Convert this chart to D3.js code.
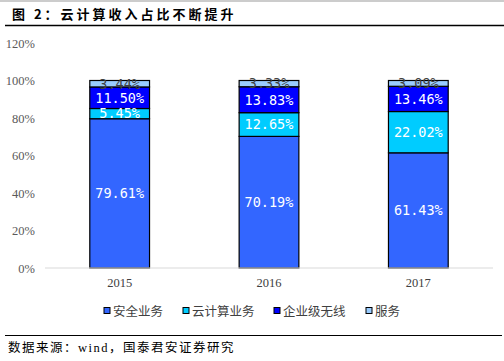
<!DOCTYPE html>
<html>
  <head>
    <meta charset="utf-8">
    <title>云计算收入占比不断提升</title>
    <script src="https://d3js.org/d3.v7.min.js"></script>
    <style>
      body { margin: 0; background: #fff; }
    </style>
  </head>
  <body>
    <div id="chart"></div>
    <script>
      // years on the x axis
      var years = ["2015", "2016", "2017"];
      // series names, bottom to top
      var seriesNames = ["安全业务", "云计算业务", "企业级无线", "服务"];
      // values in percent, one array per series
      var security = [79.61, 70.19, 61.43];
      var cloud = [5.45, 12.65, 22.02];
      var wireless = [11.50, 13.83, 13.46];
      var service = [3.44, 3.33, 3.09];
      var yTicks = [0, 20, 40, 60, 80, 100, 120];

      var colors = ["#3366ff", "#00ccff", "#0000ff", "#99ccff"];
      var labelColors = ["#ffffff", "#ffffff", "#ffffff", "#404040"];

      var W = 504, H = 361;
      var svg = d3.select("#chart").append("svg")
          .attr("width", W)
          .attr("height", H);

      // table for the stack
      var table = years.map(function(y, i) {
        return { year: y, "安全业务": security[i], "云计算业务": cloud[i], "企业级无线": wireless[i], "服务": service[i] };
      });
      var stacked = d3.stack().keys(seriesNames)(table);

      var x = d3.scaleBand().domain(years).range([45, 493]).paddingInner(0.6).paddingOuter(0.3);
      var y = d3.scaleLinear().domain([0, 120]).range([268, 43]);

      // frame lines and title
      svg.append("line").attr("x1", 0).attr("x2", W).attr("y1", 1).attr("y2", 1)
         .attr("stroke", "#999").attr("stroke-width", 1);
      svg.append("text")
         .attr("x", 12).attr("y", 19)
         .style("font-family", "'Noto Sans CJK SC', sans-serif")
         .style("font-size", "13px")
         .style("font-weight", "bold")
         .style("letter-spacing", "3px")
         .attr("fill", "#000")
         .text("图 2：云计算收入占比不断提升");
      svg.append("line").attr("x1", 5).attr("x2", 504).attr("y1", 25.5).attr("y2", 25.5)
         .attr("stroke", "#000").attr("stroke-width", 1.5);

      // y axis labels
      var yAxis = svg.append("g")
         .attr("transform", "translate(45,0)")
         .call(d3.axisLeft(y).tickValues(yTicks).tickSize(0).tickPadding(10)
               .tickFormat(function(d) { return d + "%"; }));
      yAxis.select(".domain").remove();
      yAxis.selectAll("text")
         .style("font-family", "'Liberation Serif', serif")
         .style("font-size", "12.5px")
         .attr("fill", "#595959");

      // bars
      var layer = svg.selectAll(".layer")
         .data(stacked)
         .enter().append("g")
         .attr("class", "layer")
         .attr("fill", function(d, i) { return colors[i]; });

      layer.selectAll("rect")
         .data(function(d) { return d; })
         .enter().append("rect")
         .attr("x", function(d) { return x(d.data.year); })
         .attr("y", function(d) { return y(d[1]); })
         .attr("width", x.bandwidth())
         .attr("height", function(d) { return y(d[0]) - y(d[1]); })
         .attr("stroke", "#000")
         .attr("stroke-width", 1.2);

      // x axis
      var xAxis = svg.append("g")
         .attr("transform", "translate(0,268)")
         .call(d3.axisBottom(x).tickSize(0).tickPadding(10));
      xAxis.select(".domain").attr("stroke", "#d9d9d9").attr("stroke-width", 1.2)
         .attr("d", "M45,0H493");
      xAxis.selectAll("text")
         .style("font-family", "'Liberation Serif', serif")
         .style("font-size", "12.5px")
         .attr("fill", "#404040");

      // value labels
      stacked.forEach(function(s, si) {
        svg.append("g").selectAll("text")
           .data(s)
           .enter().append("text")
           .attr("x", function(d) { return x(d.data.year) + x.bandwidth() / 2; })
           .attr("y", function(d) { return y((d[0] + d[1]) / 2); })
           .attr("dy", "0.36em")
           .attr("text-anchor", "middle")
           .style("font-family", "'DejaVu Sans Mono', monospace")
           .style("font-size", "13.5px")
           .attr("fill", labelColors[si])
           .text(function(d) { return (d[1] - d[0]).toFixed(2) + "%"; });
      });

      // legend
      var legendX = [104, 183, 274, 366];
      var legend = svg.append("g").selectAll("g")
         .data(seriesNames)
         .enter().append("g")
         .attr("transform", function(d, i) { return "translate(" + legendX[i] + ",311)"; });
      legend.append("rect")
         .attr("x", 0).attr("y", -3.5)
         .attr("width", 6).attr("height", 6)
         .attr("fill", function(d, i) { return colors[i]; })
         .attr("stroke", "#000").attr("stroke-width", 1);
      legend.append("text")
         .attr("x", 9).attr("y", 0).attr("dy", "0.36em")
         .style("font-family", "'Noto Sans CJK SC', sans-serif")
         .style("font-size", "12.5px")
         .attr("fill", "#404040")
         .text(function(d) { return d; });

      // source
      svg.append("line").attr("x1", 5).attr("x2", 502).attr("y1", 335.5).attr("y2", 335.5)
         .attr("stroke", "#000").attr("stroke-width", 1.2);
      svg.append("text")
         .attr("x", 8).attr("y", 352)
         .style("font-family", "'Liberation Serif', 'Noto Sans CJK SC', serif")
         .style("font-size", "12.5px")
         .style("letter-spacing", "1.5px")
         .attr("fill", "#000")
         .text("数据来源：wind，国泰君安证券研究");
    </script>
  </body>
</html>
